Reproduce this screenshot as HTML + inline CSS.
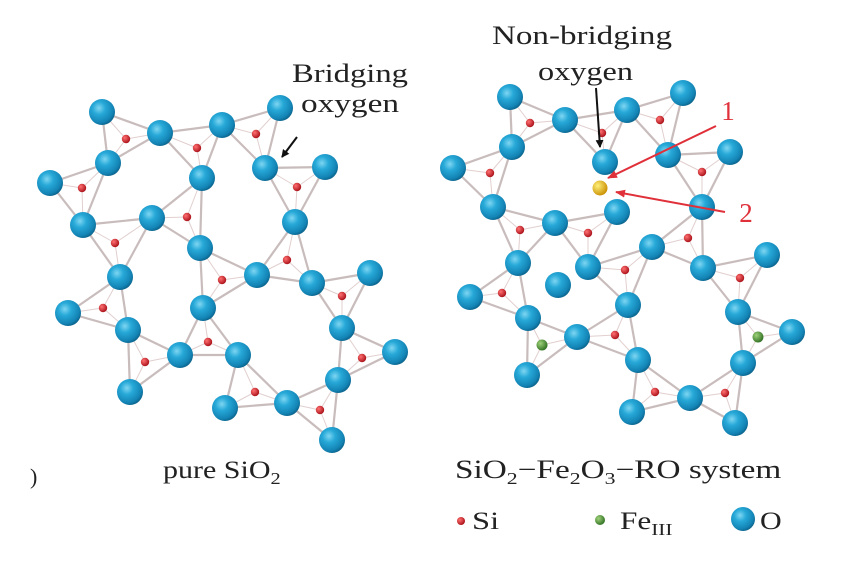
<!DOCTYPE html>
<html><head><meta charset="utf-8"><style>
html,body{margin:0;padding:0;background:#fff;}
svg{display:block;}
text{font-family:"Liberation Serif",serif;fill:#222;}
</style></head><body>
<svg id="s" width="844" height="566" viewBox="0 0 844 566" xmlns="http://www.w3.org/2000/svg">
<defs>
<radialGradient id="gO" cx="0.38" cy="0.35" r="0.7">
<stop offset="0" stop-color="#7fd6f2"/><stop offset="0.35" stop-color="#27a9d8"/><stop offset="0.8" stop-color="#1384b5"/><stop offset="1" stop-color="#0b5f86"/></radialGradient>
<radialGradient id="gS" cx="0.35" cy="0.35" r="0.7"><stop offset="0" stop-color="#ff7070"/><stop offset="1" stop-color="#a80f18"/></radialGradient>
<radialGradient id="gF" cx="0.35" cy="0.35" r="0.7"><stop offset="0" stop-color="#9fd27a"/><stop offset="1" stop-color="#2f6f22"/></radialGradient>
<radialGradient id="gY" cx="0.35" cy="0.35" r="0.7"><stop offset="0" stop-color="#fff07a"/><stop offset="1" stop-color="#c98e00"/></radialGradient>
<marker id="ab" markerWidth="8" markerHeight="8" refX="7" refY="4" orient="auto" markerUnits="userSpaceOnUse"><path d="M0,0 L8,4 L0,8 Z" fill="#111"/></marker>
<marker id="ar" markerWidth="10" markerHeight="8" refX="9" refY="4" orient="auto" markerUnits="userSpaceOnUse"><path d="M0,0 L10,4 L0,8 Z" fill="#e0303a"/></marker>
</defs>
<g id="bonds"></g><g id="atoms"></g>
<text x="292" y="82" font-size="26" textLength="116" lengthAdjust="spacingAndGlyphs">Bridging</text>
<text x="301" y="112" font-size="26" textLength="98" lengthAdjust="spacingAndGlyphs">oxygen</text>
<line x1="297" y1="137" x2="282" y2="157" stroke="#111" stroke-width="2" marker-end="url(#ab)"/>
<text x="492" y="44" font-size="26" textLength="180" lengthAdjust="spacingAndGlyphs">Non-bridging</text>
<text x="538" y="80" font-size="26" textLength="95" lengthAdjust="spacingAndGlyphs">oxygen</text>
<line x1="596" y1="88" x2="600" y2="147" stroke="#111" stroke-width="2" marker-end="url(#ab)"/>
<text x="728" y="120" font-size="27" style="fill:#e0303a" text-anchor="middle">1</text>
<line x1="716" y1="126" x2="608" y2="178" stroke="#e0303a" stroke-width="2" marker-end="url(#ar)"/>
<text x="746" y="222" font-size="27" style="fill:#e0303a" text-anchor="middle">2</text>
<line x1="725" y1="212" x2="616" y2="192" stroke="#e0303a" stroke-width="2" marker-end="url(#ar)"/>
<text transform="translate(163,478) scale(1.2,1)" x="0" y="0" font-size="25">pure SiO<tspan font-size="17" dy="6">2</tspan></text>
<text x="30" y="484" font-size="22">)</text>
<text transform="translate(455,478) scale(1.28,1)" x="0" y="0" font-size="26">SiO<tspan font-size="17" dy="6">2</tspan><tspan dy="-6">−Fe</tspan><tspan font-size="17" dy="6">2</tspan><tspan dy="-6">O</tspan><tspan font-size="17" dy="6">3</tspan><tspan dy="-6">−RO system</tspan></text>
<circle cx="461" cy="521" r="4" fill="url(#gS)"/>
<text transform="translate(472,529) scale(1.3,1)" font-size="25">Si</text>
<circle cx="600" cy="520" r="5" fill="url(#gF)"/>
<text transform="translate(620,529) scale(1.25,1)" font-size="25">Fe<tspan font-size="17" dy="6">III</tspan></text>
<circle cx="743" cy="519" r="12" fill="url(#gO)"/>
<text transform="translate(760,529) scale(1.2,1)" font-size="25">O</text>
</svg>
<script>
var L={1:[102,112],2:[160,133],3:[222,125],4:[280,108],5:[108,163],6:[50,183],7:[202,178],8:[265,168],9:[325,167],10:[83,225],11:[152,218],12:[200,248],13:[295,222],14:[120,277],15:[257,275],16:[312,283],17:[370,273],18:[68,313],19:[203,308],20:[128,330],21:[180,355],22:[238,355],23:[342,328],24:[395,352],25:[130,392],26:[338,380],27:[225,408],28:[287,403],29:[332,440]};
var LS=[[126,139,1,2,5],[197,148,2,3,7],[256,134,3,4,8],[82,188,5,6,10],[297,187,8,9,13],[187,217,7,11,12],[115,243,10,11,14],[287,260,13,15,16],[222,280,12,15,19],[342,296,16,17,23],[103,308,14,18,20],[208,342,19,21,22],[145,362,20,21,25],[362,358,23,24,26],[255,392,22,27,28],[320,410,26,28,29]];
var R={1:[510,97],2:[565,120],3:[627,110],4:[683,93],5:[512,147],6:[453,168],7:[605,162],8:[668,155],9:[730,152],10:[493,207],11:[555,223],12:[617,212],13:[702,207],14:[518,263],15:[588,267],16:[652,247],17:[558,285],18:[703,268],19:[767,255],20:[470,297],21:[628,305],22:[738,312],23:[528,318],24:[577,337],25:[792,332],26:[638,360],27:[743,363],28:[527,375],29:[690,398],30:[632,412],31:[735,423]};
var RS=[[530,123,1,2,5],[602,133,2,3,7],[660,120,3,4,8],[490,173,5,6,10],[702,172,8,9,13],[520,230,10,11,14],[588,233,11,12,15],[688,238,13,16,18],[625,270,15,16,21],[740,278,18,19,22],[502,293,14,20,23],[542,345,23,24,28,'F'],[615,335,21,24,26],[758,337,22,25,27,'F'],[655,392,26,29,30],[725,393,27,29,31]];
var NS="http://www.w3.org/2000/svg",b=document.getElementById('bonds'),a=document.getElementById('atoms');
function el(p,t,o){var e=document.createElementNS(NS,t);for(var k in o)e.setAttribute(k,o[k]);p.appendChild(e);}
function draw(O,S){
 S.forEach(function(s){var p=[O[s[2]],O[s[3]],O[s[4]]];
  for(var i=0;i<3;i++){var q=p[(i+1)%3];el(b,'line',{x1:p[i][0],y1:p[i][1],x2:q[0],y2:q[1],stroke:'#c9bcbc','stroke-width':2.2});
   el(b,'line',{x1:s[0],y1:s[1],x2:p[i][0],y2:p[i][1],stroke:'#e2cfcf','stroke-width':1});}
 });
 S.forEach(function(s){el(a,'circle',{cx:s[0],cy:s[1],r:s[5]?5.5:4.2,fill:s[5]?'url(#gF)':'url(#gS)'});});
 for(var k in O)el(a,'circle',{cx:O[k][0],cy:O[k][1],r:13,fill:'url(#gO)'});
}
draw(L,LS);draw(R,RS);
el(a,'circle',{cx:600,cy:188,r:7.5,fill:'url(#gY)'});
</script>
</body></html>
